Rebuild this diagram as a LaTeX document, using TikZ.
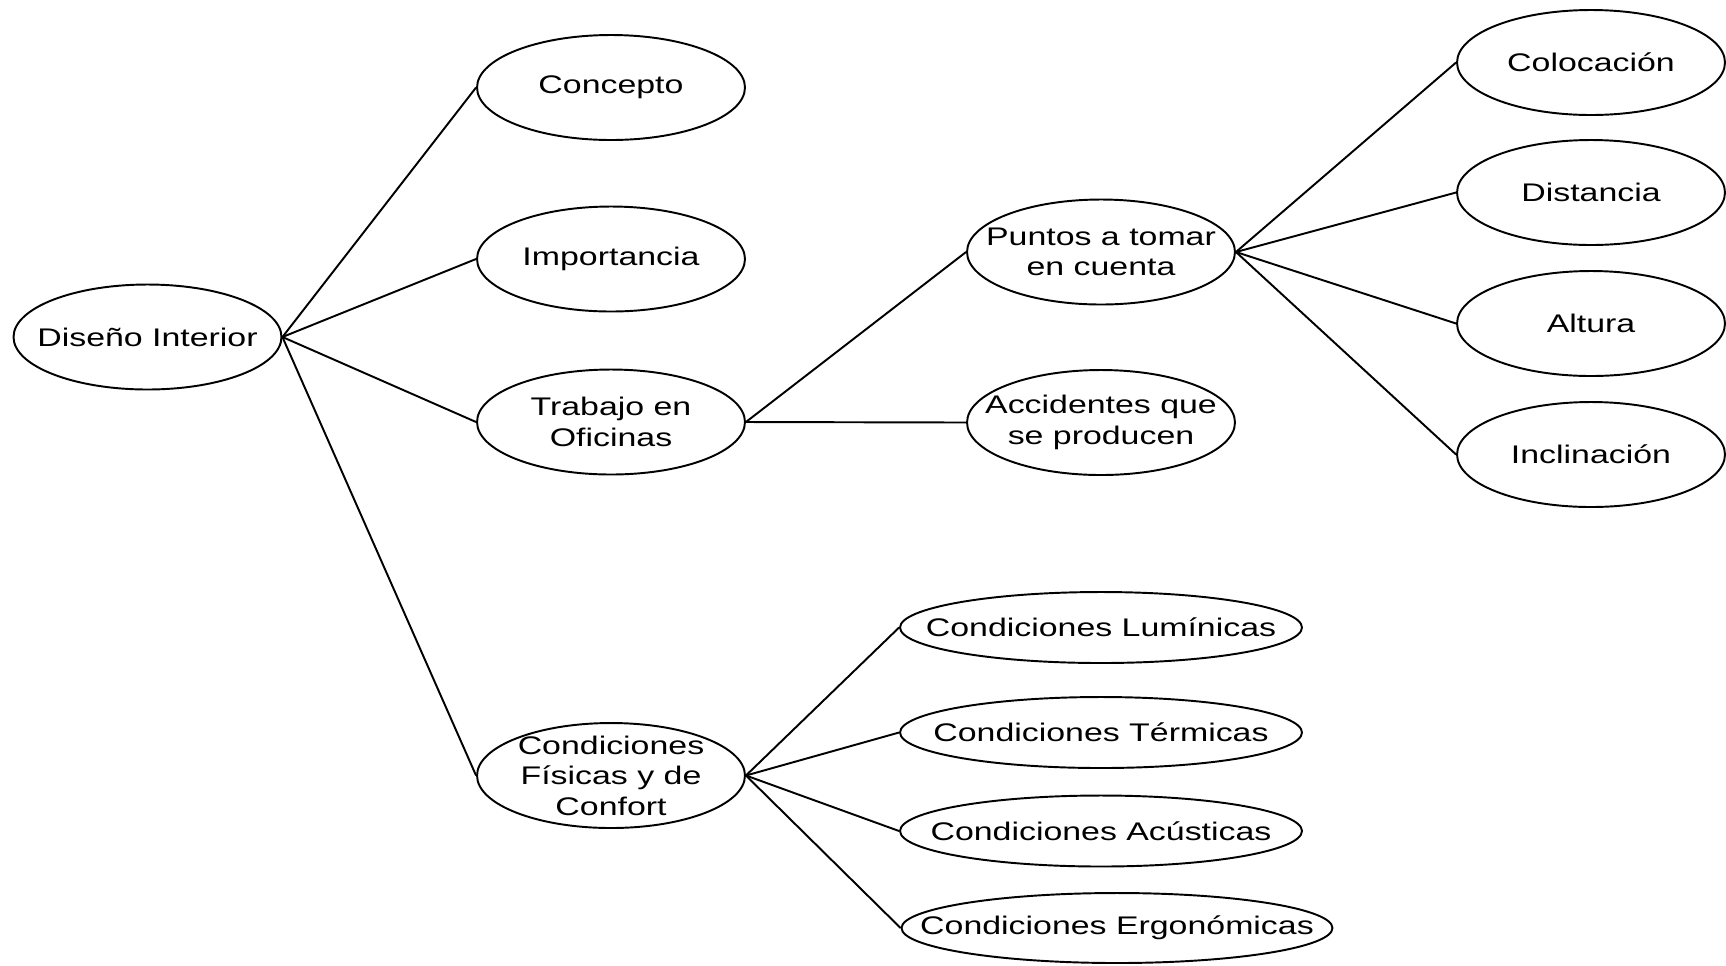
\documentclass[tikz,border=0pt]{standalone}
\usepackage{fontspec}
\setmainfont{Liberation Sans}[FakeStretch=1.33]
\usetikzlibrary{shapes.geometric}

\begin{document}
\begin{tikzpicture}[
  x=0.02cm, y=-0.02cm, % 1 unidad = 1 px de la imagen
  line width=1.1pt,
  idea/.style={draw, ellipse, inner sep=-40pt, minimum width=5.36cm, minimum height=2.1cm,
               align=center, font=\fontsize{14.5}{17.3}\selectfont},
  cond/.style={idea, minimum width=8.04cm, minimum height=1.42cm}
]
  \useasboundingbox (0,0) rectangle (1726,965);

  % raiz
  \node[idea] (disenio) at (147.5,337) {Diseño Interior};

  % segundo nivel
  \node[idea] (concepto)    at (611,87.5)  {Concepto};
  \node[idea] (importancia) at (611,259)   {Importancia};
  \node[idea] (trabajo)     at (611,422)   {Trabajo en\\Oficinas};
  \node[idea] (confort)     at (611,775.5) {Condiciones\\Físicas y de\\Confort};

  % tercer nivel
  \node[idea] (puntos)     at (1101,252)   {Puntos a tomar\\en cuenta};
  \node[idea] (accidentes) at (1101,422.5) {Accidentes que\\se producen};
  \node[cond] (luminicas)  at (1101,627.5) {Condiciones Lumínicas};
  \node[cond] (termicas)   at (1101,732.5) {Condiciones Térmicas};
  \node[cond] (acusticas)  at (1101,831)   {Condiciones Acústicas};
  \node[cond, minimum width=8.62cm, minimum height=1.4cm] (ergonomicas) at (1117,928) {Condiciones Ergonómicas};

  % cuarto nivel
  \node[idea] (colocacion)  at (1591,62.5)  {Colocación};
  \node[idea] (distancia)   at (1591,192.5) {Distancia};
  \node[idea] (altura)      at (1591,323.5) {Altura};
  \node[idea] (inclinacion) at (1591,454.5) {Inclinación};

  % conexiones (lado derecho del padre al lado izquierdo del hijo)
  \foreach \a/\b in {disenio/concepto, disenio/importancia, disenio/trabajo, disenio/confort,
                     trabajo/puntos, trabajo/accidentes,
                     puntos/colocacion, puntos/distancia, puntos/altura, puntos/inclinacion,
                     confort/luminicas, confort/termicas, confort/acusticas, confort/ergonomicas}
    \draw (\a.east) -- (\b.west);
\end{tikzpicture}
\end{document}
